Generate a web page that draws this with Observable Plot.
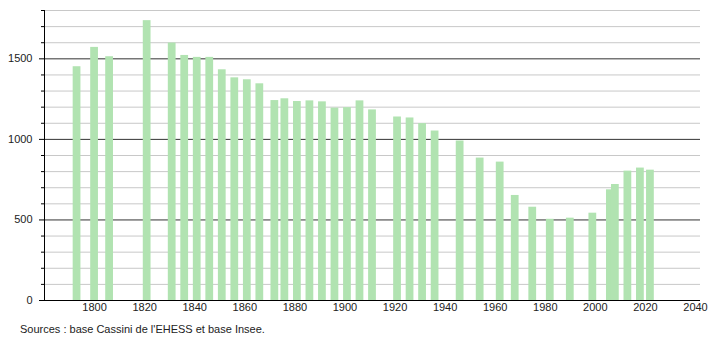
<!DOCTYPE html>
<html>
<head>
<meta charset="utf-8">
<script src="https://cdn.jsdelivr.net/npm/d3@7"></script>
<script src="https://cdn.jsdelivr.net/npm/@observablehq/plot@0.6"></script>
<style>
  html, body { margin: 0; padding: 0; background: #fff; }
  #chart { width: 710px; }
  .caption { font-family: "Liberation Sans", Arial, sans-serif; font-size: 11px; color: #222; padding-left: 20px; line-height: 22px; height: 22px; }
</style>
</head>
<body>
<div id="chart"></div>
<script>
const years = [1793,1800,1806,1821,1831,1836,1841,1846,1851,1856,1861,1866,1872,1876,1881,1886,1891,1896,1901,1906,1911,1921,1926,1931,1936,1946,1954,1962,1968,1975,1982,1990,1999,2006,2008,2013,2018,2022];
const population = [1451,1571,1513,1737,1598,1521,1509,1509,1432,1382,1370,1345,1241,1252,1235,1239,1233,1194,1197,1239,1183,1139,1133,1098,1052,990,884,859,652,579,504,511,542,687,720,803,822,809];
const yMajorTicks = [0,500,1000,1500];
const yMinorTicks = [100,200,300,400,600,700,800,900,1100,1200,1300,1400,1600,1700,1800];
const xTicks = [1800,1820,1840,1860,1880,1900,1920,1940,1960,1980,2000,2020,2040];
const captionText = "Sources : base Cassini de l'EHESS et base Insee.";

const data = years.map((year, i) => ({year, pop: population[i]}));
const halfWidth = 1.55;

const chart = Plot.plot({
  width: 710,
  height: 318,
  marginLeft: 44,
  marginRight: 10,
  marginTop: 10,
  marginBottom: 18,
  style: {fontFamily: "'Liberation Sans', Arial, sans-serif", fontSize: "11px", color: "#222", background: "#fff"},
  x: {domain: [1780, 2042], axis: null, label: null},
  y: {domain: [0, 1800], axis: null, label: null},
  marks: [
    Plot.ruleY(yMinorTicks, {stroke: "#c8c8c8", strokeWidth: 1}),
    Plot.ruleY(yMajorTicks.filter(d => d > 0), {stroke: "#333", strokeWidth: 1}),
    Plot.rectY(data, {x1: d => d.year - halfWidth, x2: d => d.year + halfWidth, y: "pop", fill: "#b1e3b1"}),
    Plot.ruleY([0], {stroke: "#000", strokeWidth: 1}),
    Plot.ruleX([1780], {stroke: "#000", strokeWidth: 1}),
    Plot.axisY({ticks: yMajorTicks, tickSize: 5, tickPadding: 7, tickFormat: d => String(d), stroke: "#000", fill: "#222", fontSize: 11, label: null}),
    Plot.axisY({ticks: yMinorTicks, tickSize: 3, tickFormat: () => "", stroke: "#000", label: null}),
    Plot.axisX({ticks: xTicks, tickSize: 0, tickPadding: 3, tickFormat: d => String(d), fill: "#222", fontSize: 11, label: null})
  ]
});
document.getElementById("chart").appendChild(chart);
const cap = document.createElement("div");
cap.className = "caption";
cap.textContent = captionText;
document.getElementById("chart").appendChild(cap);
</script>
</body>
</html>
